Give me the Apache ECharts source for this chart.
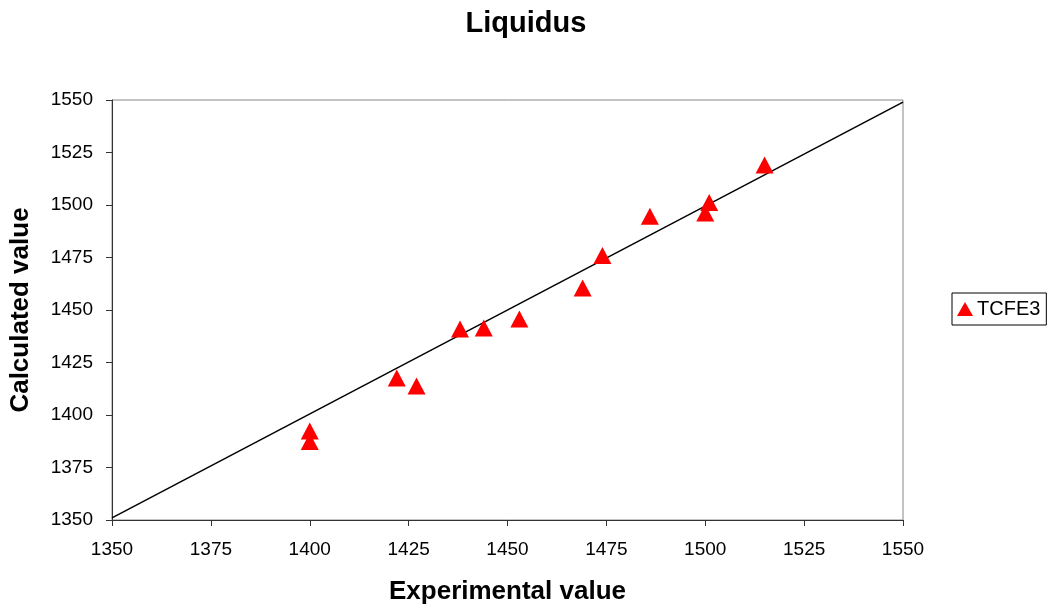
<!DOCTYPE html>
<html><head><meta charset="utf-8">
<script src="https://cdn.jsdelivr.net/npm/echarts@6/dist/echarts.min.js"></script>
<style>html,body{margin:0;padding:0;background:#fff}#c{width:1054px;height:610px}</style>
</head><body><div id="c"></div>
<script>
const experimental = [1400, 1400, 1422, 1427, 1438, 1444, 1453, 1469, 1474, 1486, 1500, 1501, 1515];
const calculated   = [1392.4, 1387.4, 1417.6, 1413.8, 1440.9, 1441.4, 1445.7, 1460.5, 1476, 1494.6, 1496.2, 1501.2, 1519];
const refLineX = [1350, 1550];
const refLineY = [1351, 1549];
const seriesName = 'TCFE3';

const chart = echarts.init(document.getElementById('c'));
const font = 'Liberation Sans, Arial, sans-serif';
chart.setOption({
  animation: false,
  backgroundColor: '#fff',
  title: {
    text: 'Liquidus', left: 521, top: 4, textAlign: 'center',
    textStyle: {fontFamily: font, fontSize: 29, fontWeight: 'bold', color: '#000'}
  },
  legend: {
    left: 952, top: 293, orient: 'vertical',
    borderColor: '#000', borderWidth: 1, padding: [6, 6, 6, 5],
    itemWidth: 16, itemHeight: 14, itemGap: 0,
    data: [{name: seriesName, icon: 'triangle'}],
    textStyle: {fontFamily: font, fontSize: 20, color: '#000', padding: [0, 0, 0, -1]}
  },
  grid: {left: 111, top: 100, width: 792, height: 420, show: true, borderColor: '#888', borderWidth: 1},
  xAxis: {
    type: 'value', min: 1350, max: 1550, interval: 25,
    name: 'Experimental value', nameLocation: 'middle', nameGap: 59,
    nameTextStyle: {fontFamily: font, fontSize: 26, fontWeight: 'bold', color: '#000'},
    axisLine: {show: true, lineStyle: {color: '#333', width: 1}},
    axisTick: {show: true, length: 6, lineStyle: {color: '#333'}},
    axisLabel: {fontFamily: font, fontSize: 19, color: '#000', margin: 20, formatter: v => String(v)},
    splitLine: {show: false}
  },
  yAxis: {
    type: 'value', min: 1350, max: 1550, interval: 25,
    name: 'Calculated value', nameLocation: 'middle', nameGap: 78, nameRotate: 90,
    nameTextStyle: {fontFamily: font, fontSize: 26, fontWeight: 'bold', color: '#000'},
    axisLine: {show: true, lineStyle: {color: '#333', width: 1}},
    axisTick: {show: true, length: 6, lineStyle: {color: '#333'}},
    axisLabel: {fontFamily: font, fontSize: 19, color: '#000', margin: 19, formatter: v => String(v)},
    splitLine: {show: false}
  },
  series: [
    {
      name: 'line', type: 'line', symbol: 'none', silent: true,
      data: refLineX.map((x, i) => [x, refLineY[i]]),
      lineStyle: {color: '#000', width: 1.5}, z: 1
    },
    {
      name: seriesName, type: 'scatter', symbol: 'triangle', symbolSize: [18, 17],
      itemStyle: {color: '#ff0000', opacity: 1},
      data: experimental.map((x, i) => [x, calculated[i]]), z: 3
    }
  ]
});
</script></body></html>
